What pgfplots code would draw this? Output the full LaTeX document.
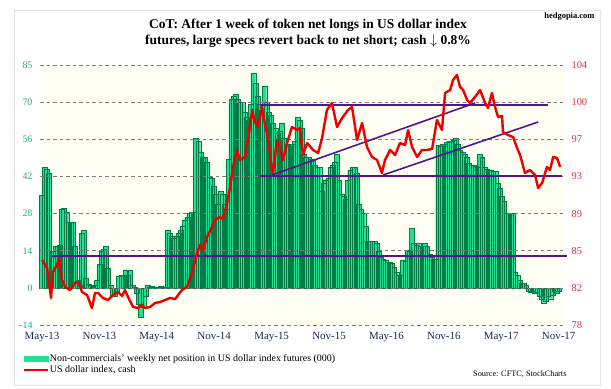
\documentclass[border=0pt]{standalone}
\usepackage{pgfplots}
\pgfplotsset{compat=1.18}
\usepackage{pgfplotstable}
\usepackage{fontspec}
\setmainfont{Liberation Serif}
\definecolor{barfill}{RGB}{40,222,145}
\definecolor{baredge}{RGB}{0,125,70}
\definecolor{usd}{RGB}{238,0,0}
\definecolor{purp}{RGB}{85,20,140}
\definecolor{lefttick}{RGB}{40,170,130}
\definecolor{righttick}{RGB}{225,45,65}
\definecolor{xtickc}{RGB}{30,40,90}
\definecolor{gridc}{RGB}{125,125,125}

\pgfplotstableread{
w v
0 35.5
1 46
2 45.5
3 44
4 2
5 14
6 16
7 16
8 16.5
9 30
10 30.5
11 29
12 25
13 25
14 25
15 16
16 3
17 1
18 21
19 22
20 4
21 1.5
22 1
23 1
24 1
25 3
26 9
27 14
28 15
29 16
30 7.6
31 1
32 -3
33 -3
34 -2
35 4.5
36 5
37 5
38 7
39 5
40 7
41 1
42 0.5
43 -2
44 -6
45 -11
46 -7
47 -3
48 1
49 0.5
50 0.8
51 0.5
52 0.6
53 0.4
54 0.7
55 0.5
56 0.6
57 22
58 21
59 20
60 19
61 20
62 21
63 22
64 23.5
65 26
66 27
67 28.6
68 29
69 29
70 57
71 56
72 52
73 50
74 50
75 48
76 42.5
77 42
78 39
79 36
80 32
81 37
82 36
83 32
84 30
85 49
86 72
87 73
88 74
89 72
90 71
91 71
92 67
93 65
94 64
95 70
96 82
97 78
98 73
99 70
100 68
101 77
102 71
103 67
104 66
105 63
106 61
107 59
108 60
109 63
110 57
111 55
112 54
113 55
114 55
115 56
116 65
117 64
118 61
119 51
120 50
121 50
122 49
123 49
124 47
125 46
126 46
127 37
128 40
129 41
130 42
131 46
132 47
133 48
134 51
135 41
136 36
137 35
138 34
139 41
140 45
141 46
142 46
143 44
144 32
145 30
146 28.6
147 23.5
148 18
149 18
150 18
151 17.8
152 17
153 14
154 12
155 11
156 10.8
157 10
158 10
159 9.5
160 8
161 6
162 5
163 5
164 10.8
165 10.5
166 14.6
167 14
168 23
169 17
170 16.5
171 17
172 16
173 16
174 17
175 16
176 13
177 12
178 11
179 11
180 54.5
181 54
182 55
183 55
184 55.5
185 56
186 56
187 56.5
188 57
189 55
190 52.7
191 52
192 51
193 50
194 47.6
195 47
196 47
197 46.5
198 46
199 51
200 50
201 46
202 45.5
203 45
204 45
205 44.5
206 44.5
207 40
208 38
209 35
210 33
211 28.6
212 28.6
213 28.6
214 28.6
215 6.3
216 5
217 3
218 2
219 2
220 1
221 -1
222 -1.5
223 -1
224 -2
225 -1.5
226 -3
227 -4
228 -5.5
229 -5
230 -3
231 -4
232 -2.5
233 -1
234 -2
235 -1
}\netpos

\pgfplotstableread{
w d
0 84.5
2.3 83.7
4.1 80.7
5 83.3
6.8 84
7.7 84.7
9.1 82.5
10.5 81.8
12.7 81.5
15 82.2
16.4 82.3
18.2 81.3
20.5 81
22.7 79.7
24.1 81.2
25.5 81.2
27.7 80.7
30 80.5
32.3 81
34.5 81.3
36.4 80.9
37.7 81.5
39.1 80.8
41.4 79.8
43.6 79.7
45.5 80
46.8 79.7
49.1 79.8
51.4 80.2
53.6 80.3
55.9 80.5
58.2 80.7
60.5 80.6
63.6 81.5
65.9 81.8
68.2 83.2
70.5 85.2
71.8 86
73.2 85.5
75 86.8
77.3 87.8
78.6 88.5
80.9 88.8
82.3 88.6
84.1 90.2
85.5 91.8
86.8 93.8
88.6 95.5
90 94.5
92.3 94.8
94.5 97.8
95.5 99.5
96.8 98.3
98.2 97.8
100 99.8
101.4 98
102.7 96.8
104.5 93.5
105 93.2
106.8 96.5
108.2 95.8
109.5 94.5
111.4 96.2
113.6 97.8
115.9 97.5
117.3 97.7
118.6 95
120.5 96.2
123.2 95.5
125.5 95.2
127.3 96.7
129.5 99.5
131.8 100.2
134.1 97.8
136.4 98.7
139.1 99.5
140.9 99.8
143.2 96.5
145.5 98.2
147.7 95.8
150 94.8
152.3 94.5
154.5 93.2
155.9 94.5
158.2 95.5
160.5 95
162.7 96.2
165 96
166.4 97.5
168.2 95.8
170.5 94.8
172.7 95.5
175 95.5
177.3 95.6
179.5 98.5
181.8 97.5
183.2 101.2
185.5 101.5
186.8 102.5
188.6 103
190 101.8
191.4 101.5
193.2 100.5
194.5 100.2
196.8 100.8
199.1 101.5
201.4 100.2
202.7 99.7
204.5 101.2
205.9 99.8
207.3 98.8
209.1 98.9
209.5 97.3
211.8 97
214.1 96.8
215.9 95.7
217.3 95
219.5 93.2
221.8 93.5
224.1 93
225.5 91.7
227.3 92.2
229.5 93.8
230.9 93.5
232.3 94.8
234.1 94.7
235.5 93.8
}\usdidx

\begin{document}
\begin{tikzpicture}[x=1bp,y=1bp]
\path[use as bounding box] (0,0) rectangle (611,388);
\draw[gray!20, line width=0.8bp] (14,3) rectangle (600,378);
\fill[yellow!5] (40,63) rectangle (563,323);

\node[font=\bfseries\fontsize{13.5}{16}\selectfont, align=center] at (308,355) {CoT: After 1 week of token net longs in US dollar index\\futures, large specs revert back to net short; cash $\downarrow$ 0.8\%};
\node[font=\bfseries\fontsize{8.5}{10}\selectfont, anchor=east] at (598,372) {hedgopia.com};
\node[font=\fontsize{8.3}{10}\selectfont, anchor=east] at (570,14) {Source: CFTC, StockCharts};

\begin{axis}[
  at={(40bp,63bp)}, anchor=south west,
  width=523bp, height=260bp, scale only axis,
  xmin=-0.91, xmax=236.8, ymin=-14, ymax=85,
  axis line style={draw=none}, major tick length=0pt,
  ytick={-14,0.142857,14.285714,28.428571,42.571429,56.714286,70.857143,85},
  yticklabels={-14,0,14,28,42,56,70,85},
  ymajorgrids, grid style={gridc, dash pattern=on 3.5bp off 3bp, line width=0.6bp},
  yticklabel style={font=\fontsize{10}{10}\selectfont, text=lefttick, xshift=-4bp},
  xtick={0,26.09,52.18,78.27,104.36,130.45,156.54,182.63,208.72,234.81},
  xticklabels={May-13,Nov-13,May-14,Nov-14,May-15,Nov-15,May-16,Nov-16,May-17,Nov-17},
  xticklabel style={font=\fontsize{11}{11}\selectfont, text=xtickc, yshift=-4bp},
  /pgf/number format/assume math mode=true,
  axis on top, clip=false,
]
\addplot[ybar, bar width=2.2, fill=barfill, draw=baredge, line width=0.22bp] table[x=w,y=v]{\netpos};
\end{axis}

\begin{axis}[
  at={(40bp,63bp)}, anchor=south west,
  width=523bp, height=260bp, scale only axis,
  xmin=-0.91, xmax=236.8, ymin=78, ymax=104,
  axis y line*=right, hide x axis,
  axis line style={draw=none}, major tick length=0pt,
  ytick={78,81.714286,85.428571,89.142857,92.857143,96.571429,100.285714,104},
  yticklabels={78,82,85,89,93,97,100,104},
  yticklabel style={font=\fontsize{10.5}{10.5}\selectfont, text=righttick, xshift=5bp},
  /pgf/number format/assume math mode=true,
  clip=false,
  legend style={at={(-0.033,-0.108)}, anchor=north west, draw=none, fill=none,
    font=\fontsize{10}{11}\selectfont, row sep=1bp, inner sep=0pt,
    nodes={inner sep=1bp}},
  legend cell align=left,
]
\addlegendimage{legend image code/.code={\fill[barfill] (0bp,-2.8bp) rectangle (24bp,2.8bp);}}
\addlegendentry{Non-commercials' weekly net position in US dollar index futures (000)}
\addplot[purp, line width=1.6bp, forget plot] coordinates {(4.5,84.9) (238.6,84.9)};
\addplot[purp, line width=1.6bp, forget plot] coordinates {(99.1,100.0) (230,100.0)};
\addplot[purp, line width=1.6bp, forget plot] coordinates {(99.1,92.9) (236.4,92.9)};
\addplot[purp, line width=1.6bp, forget plot] coordinates {(104.5,93.0) (196.8,100.2)};
\addplot[purp, line width=1.6bp, forget plot] coordinates {(155,93.0) (225.5,98.3)};
\addplot[usd, line width=2.4bp, line join=round,
  legend image code/.code={\draw[usd, line width=2bp] (0bp,0bp) -- (24bp,0bp);}]
  table[x=w,y=d]{\usdidx};
\addlegendentry{US dollar index, cash}
\end{axis}
\end{tikzpicture}
\end{document}
